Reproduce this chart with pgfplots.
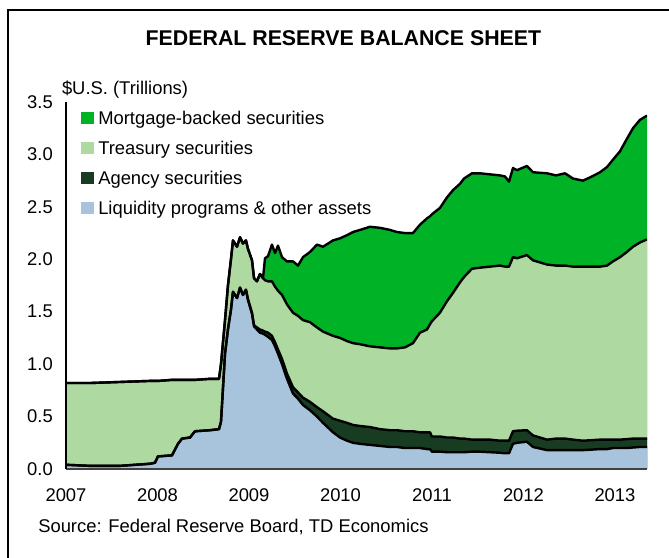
\documentclass[border=0pt]{standalone}
\usepackage{pgfplots}
\pgfplotsset{compat=1.18}
\usepackage{pgfplotstable}
\usepackage{fontspec}
\setmainfont{Liberation Sans}
\definecolor{mbscol}{RGB}{0,178,38}
\definecolor{trscol}{RGB}{174,217,160}
\definecolor{agycol}{RGB}{24,60,34}
\definecolor{liqcol}{RGB}{168,196,220}
% components in $ trillions: liquidity, agency, treasury, MBS
\pgfplotstableread{
year     liq    agy    trs    mbs
2007.000 0.04   0.00   0.78   0.00
2007.262 0.03   0.00   0.79   0.00
2007.590 0.03   0.00   0.80   0.00
2007.918 0.05   0.00   0.79   0.00
2007.973 0.06   0.00   0.78   0.00
2008.005 0.12   0.00   0.72   0.00
2008.158 0.13   0.00   0.72   0.00
2008.224 0.24   0.00   0.61   0.00
2008.268 0.29   0.00   0.56   0.00
2008.355 0.30   0.00   0.55   0.00
2008.410 0.36   0.00   0.49   0.00
2008.574 0.37   0.00   0.49   0.00
2008.672 0.38   0.00   0.48   0.00
2008.694 0.45   0.00   0.55   0.00
2008.738 1.10   0.00   0.32   0.00
2008.770 1.33   0.00   0.42   0.00
2008.803 1.52   0.00   0.48   0.00
2008.825 1.69   0.00   0.49   0.00
2008.869 1.63   0.00   0.49   0.00
2008.902 1.73   0.00   0.48   0.00
2008.934 1.66   0.00   0.49   0.00
2008.967 1.71   0.00   0.47   0.00
2008.989 1.61   0.01   0.48   0.00
2009.033 1.48   0.01   0.50   0.00
2009.055 1.36   0.01   0.45   0.00
2009.087 1.33   0.02   0.44   0.00
2009.120 1.30   0.03   0.53   0.00
2009.153 1.29   0.03   0.50   0.00
2009.175 1.28   0.03   0.49   0.21
2009.208 1.26   0.04   0.49   0.24
2009.251 1.23   0.04   0.52   0.35
2009.284 1.17   0.04   0.53   0.32
2009.317 1.10   0.04   0.56   0.43
2009.361 1.00   0.05   0.61   0.36
2009.415 0.86   0.05   0.66   0.41
2009.481 0.72   0.06   0.71   0.49
2009.536 0.67   0.06   0.73   0.48
2009.590 0.61   0.07   0.74   0.60
2009.667 0.56   0.08   0.76   0.67
2009.743 0.50   0.09   0.76   0.79
2009.809 0.44   0.11   0.76   0.81
2009.918 0.35   0.13   0.79   0.91
2009.995 0.30   0.16   0.79   0.95
2010.071 0.27   0.17   0.78   1.01
2010.137 0.25   0.17   0.78   1.06
2010.213 0.24   0.17   0.78   1.09
2010.322 0.23   0.17   0.77   1.14
2010.432 0.22   0.16   0.78   1.14
2010.541 0.21   0.16   0.78   1.13
2010.617 0.21   0.16   0.78   1.11
2010.705 0.20   0.16   0.80   1.09
2010.792 0.20   0.16   0.84   1.05
2010.869 0.20   0.15   0.95   1.03
2010.945 0.19   0.16   0.98   1.06
2010.978 0.19   0.16   1.03   1.03
2011.000 0.165  0.145  1.10   1.02
2011.087 0.165  0.145  1.18   1.00
2011.164 0.16   0.14   1.30   0.99
2011.230 0.16   0.14   1.38   0.98
2011.306 0.16   0.13   1.49   0.94
2011.350 0.16   0.13   1.54   0.94
2011.437 0.165  0.115  1.63   0.91
2011.525 0.165  0.115  1.64   0.90
2011.634 0.16   0.12   1.65   0.88
2011.743 0.155  0.115  1.67   0.86
2011.798 0.15   0.12   1.66   0.86
2011.842 0.15   0.12   1.66   0.81
2011.885 0.24   0.12   1.66   0.85
2011.929 0.25   0.115  1.645  0.84
2012.038 0.26   0.11   1.67   0.85
2012.104 0.21   0.11   1.67   0.84
2012.257 0.18   0.10   1.67   0.87
2012.355 0.18   0.11   1.65   0.86
2012.454 0.18   0.11   1.65   0.88
2012.541 0.18   0.10   1.65   0.84
2012.650 0.18   0.09   1.66   0.82
2012.749 0.185  0.09   1.655  0.86
2012.836 0.19   0.09   1.65   0.90
2012.913 0.19   0.09   1.66   0.94
2012.978 0.20   0.08   1.70   0.97
2013.055 0.20   0.08   1.74   1.01
2013.131 0.20   0.085  1.785  1.08
2013.197 0.205  0.085  1.83   1.13
2013.273 0.21   0.08   1.87   1.17
2013.350 0.21   0.08   1.90   1.18
}\fed
\begin{document}
\begin{tikzpicture}
\useasboundingbox (0,0) rectangle (501.75pt,418.5pt);
\draw[line width=1.9pt] (6pt,-2pt) -- (6pt,411pt) -- (504pt,411pt);
\node[font=\bfseries\fontsize{16}{19}\selectfont] at (257.6pt,390pt) {FEDERAL RESERVE BALANCE SHEET};
\node[font=\fontsize{13.8}{16}\selectfont, anchor=base west, inner sep=0pt] at (46.3pt,347.25pt) {\$U.S. (Trillions)};
\node[font=\fontsize{13.8}{16}\selectfont, anchor=base west, inner sep=0pt] at (28.5pt,19.5pt) {Source: Federal Reserve Board, TD Economics};
\begin{axis}[
  at={(49.5pt,66.75pt)}, anchor=south west,
  scale only axis, width=435.75pt, height=275.25pt,
  xmin=2007, xmax=2013.35, ymin=0, ymax=3.5,
  axis x line*=bottom, axis y line*=left,
  x axis line style={-, draw=black!75, line width=1.1pt},
  y axis line style={-, draw=black, line width=1.5pt},
  axis on top,
  major tick length=0pt,
  xtick={2007,2008,2009,2010,2011,2012,2013},
  xticklabels={2007,2008,2009,2010,2011,2012,2013},
  ytick={0,0.5,1,1.5,2,2.5,3,3.5},
  yticklabel style={/pgf/number format/fixed, /pgf/number format/fixed zerofill, /pgf/number format/precision=1, xshift=-6.4pt},
  xticklabel style={yshift=-11.5pt},
  /pgf/number format/assume math mode=true,
  tick label style={font=\fontsize{13.8}{16}\selectfont},
  legend style={at={(axis description cs:0,1)}, anchor=north west, xshift=11.25pt, yshift=-6.85pt,
    draw=none, fill=none, inner sep=0pt, row sep=9.5pt, column sep=3.75pt,
    font=\fontsize{13.8}{16}\selectfont,
    nodes={inner sep=0pt, text height=10pt, text depth=3pt}},
  legend cell align=left,
]
\addplot[fill=mbscol, draw=none, forget plot] table[x=year, y expr=\thisrow{liq}+\thisrow{agy}+\thisrow{trs}+\thisrow{mbs}] {\fed} \closedcycle;
\addplot[fill=trscol, draw=none, forget plot] table[x=year, y expr=\thisrow{liq}+\thisrow{agy}+\thisrow{trs}] {\fed} \closedcycle;
\addplot[fill=agycol, draw=none, forget plot] table[x=year, y expr=\thisrow{liq}+\thisrow{agy}] {\fed} \closedcycle;
\addplot[fill=liqcol, draw=none, forget plot] table[x=year, y=liq] {\fed} \closedcycle;
\addplot[black, line width=1.8pt, line join=round, forget plot] table[x=year, y expr=\thisrow{liq}+\thisrow{agy}+\thisrow{trs}+\thisrow{mbs}] {\fed};
\addplot[black, line width=1.8pt, line join=round, forget plot] table[x=year, y expr=\thisrow{liq}+\thisrow{agy}+\thisrow{trs}] {\fed};
\addplot[black, line width=1.8pt, line join=round, forget plot] table[x=year, y expr=\thisrow{liq}+\thisrow{agy}] {\fed};
\addplot[black, line width=1.8pt, line join=round, forget plot] table[x=year, y=liq] {\fed};
\addlegendimage{legend image code/.code={\fill[mbscol] (0pt,-2.5pt) rectangle (8.6pt,6.1pt);}}
\addlegendentry{Mortgage-backed securities}
\addlegendimage{legend image code/.code={\fill[trscol] (0pt,-2.5pt) rectangle (8.6pt,6.1pt);}}
\addlegendentry{Treasury securities}
\addlegendimage{legend image code/.code={\fill[agycol] (0pt,-2.5pt) rectangle (8.6pt,6.1pt);}}
\addlegendentry{Agency securities}
\addlegendimage{legend image code/.code={\fill[liqcol] (0pt,-2.5pt) rectangle (8.6pt,6.1pt);}}
\addlegendentry{Liquidity programs \& other assets}
\end{axis}
\end{tikzpicture}
\end{document}
